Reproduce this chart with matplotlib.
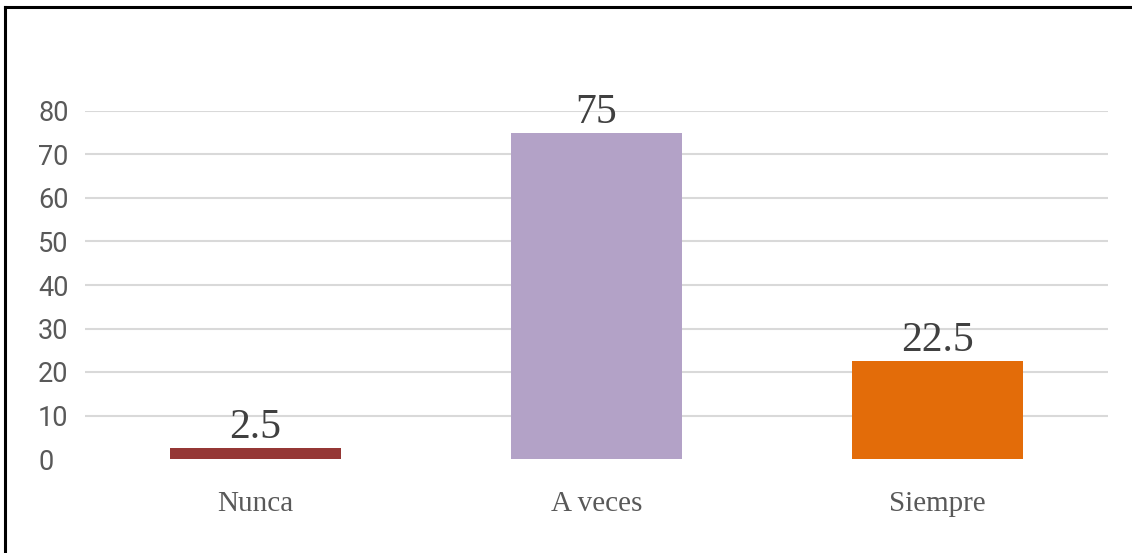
import matplotlib
matplotlib.use("Agg")
import matplotlib.pyplot as plt
from matplotlib.lines import Line2D

categories = ["Nunca", "A veces", "Siempre"]
values = [2.5, 75, 22.5]
value_labels = ["2.5", "75", "22.5"]
colors = ["#953735", "#b3a2c7", "#e36c09"]
yticks = [0, 10, 20, 30, 40, 50, 60, 70, 80]

W, H = 1132, 553
fig = plt.figure(figsize=(W / 100, H / 100), dpi=100)
ax = fig.add_axes([85 / W, 1 - 459 / H, (1108 - 85) / W, (459 - 111) / H])

x = list(range(len(categories)))
ax.bar(x, values, width=0.5, color=colors, zorder=3)
ax.set_xlim(-0.5, 2.5)
ax.set_ylim(0, 80)
ax.set_yticks(yticks)
ax.set_yticklabels([str(t) for t in yticks])
ax.yaxis.grid(True, color="#d9d9d9", linewidth=1.5, zorder=0)
gl = ax.yaxis.get_gridlines()
gl[0].set_visible(False)
ax.set_axisbelow(True)
for s in ax.spines.values():
    s.set_visible(False)
ax.tick_params(axis="both", length=0)
ax.tick_params(axis="y", pad=33.8, labelcolor="#595959")
for lab in ax.get_yticklabels():
    lab.set_ha("left")
    lab.set_family(["Roboto", "DejaVu Sans"])
    lab.set_fontsize(19.5)
ax.set_xticks(x)
ax.set_xticklabels(categories)
ax.tick_params(axis="x", pad=23, labelcolor="#595959")
for lab in ax.get_xticklabels():
    lab.set_family(["Liberation Serif", "DejaVu Serif"])
    lab.set_fontsize(21)

for xi, v, t in zip(x, values, value_labels):
    ax.annotate(t, (xi, v), xytext=(0, 7), textcoords="offset points",
                ha="center", va="baseline", fontsize=30, color="#404040",
                family=["Liberation Serif", "DejaVu Serif"])

# figure border (top and left)
fig.add_artist(Line2D([5 / W, 5 / W], [0, 1 - 7 / H], transform=fig.transFigure,
                      color="black", linewidth=2.2))
fig.add_artist(Line2D([5 / W, 1], [1 - 7 / H, 1 - 7 / H], transform=fig.transFigure,
                      color="black", linewidth=2.2))

fig.savefig("out.png", dpi=100)
